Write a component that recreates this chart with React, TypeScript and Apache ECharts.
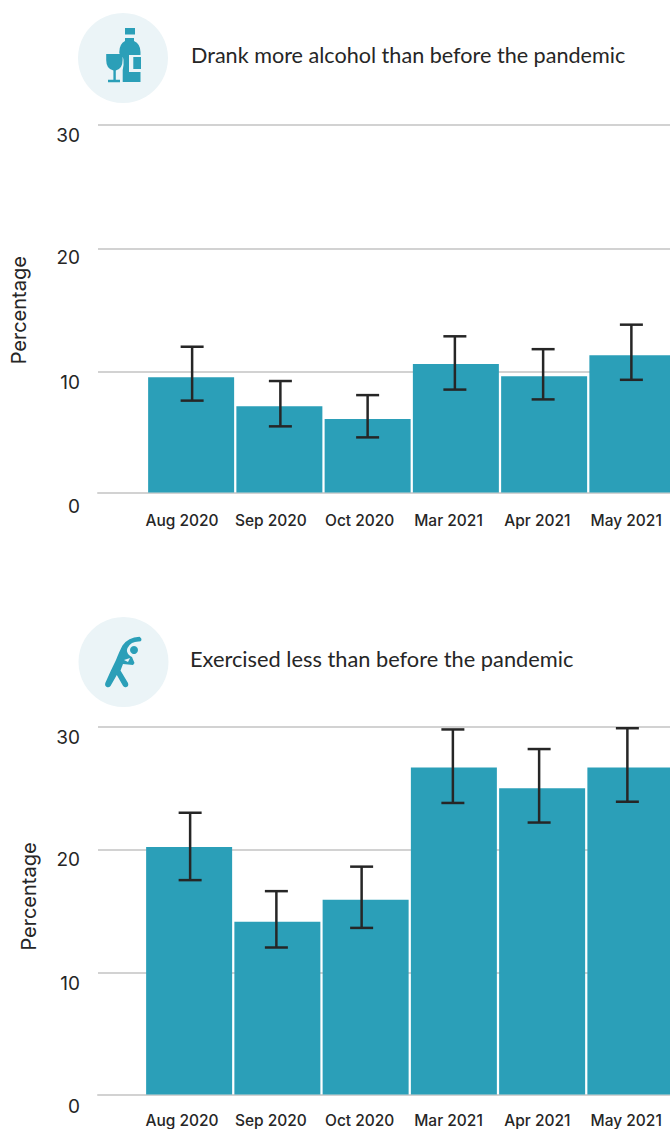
import React, { useEffect, useRef } from "react";
import * as echarts from "echarts";

const months = ["Aug 2020", "Sep 2020", "Oct 2020", "Mar 2021", "Apr 2021", "May 2021"];

const alcoholTitle = "Drank more alcohol than before the pandemic";
const alcoholValues = [9.4, 7.05, 6.0, 10.5, 9.5, 11.2];
const alcoholLow = [7.5, 5.4, 4.5, 8.4, 7.6, 9.2];
const alcoholHigh = [11.9, 9.1, 7.95, 12.75, 11.7, 13.7];

const exerciseTitle = "Exercised less than before the pandemic";
const exerciseValues = [20.2, 14.1, 15.9, 26.7, 25.0, 26.7];
const exerciseLow = [17.5, 12.0, 13.6, 23.8, 22.2, 23.9];
const exerciseHigh = [23.0, 16.6, 18.6, 29.8, 28.2, 29.9];

const TEAL = "#2b9fb8";
const INK = "#262626";
const GRID = "#d2d2d2";
const ROUND = "#ebf4f7";

const bottleD =
  "M125 28H135V34.5H125Z M125 38H134V41Q140.5 44 140.5 52V55H129V72H140.5V82H122.7V70Q124 64 123.5 60Q123 55 119.3 53.5V52Q119.3 44 125 41Z M133.3 57H141V69H133.3Z " +
  "M106.2 54H122.6V60Q122.6 69 115.8 70.4V79.8H120V82.2H108V79.8H113.4V70.4Q106.2 69 106.2 60Z";
const athleteD =
  "M139.5 636.8Q141.8 638.2 141.5 640Q141 641.8 138.5 641.6Q131 641.6 127.5 648Q126.5 650.5 127 651.5Q128 655 132 657L134.5 663L133 665L123 664L120.5 670.5L128 683Q129 686 126.5 687Q124.2 688 122.8 685.6L116.8 675L110.5 686Q109 688 106.7 687Q104.5 685.8 105.3 683Q111 670 116 660Q119.5 651 122.5 645.5Q128 637.5 139.5 636.8Z";

echarts.graphic.registerShape("bottleIcon", echarts.graphic.extendPath(bottleD, {}));
echarts.graphic.registerShape("athleteIcon", echarts.graphic.extendPath(athleteD, {}));

const TITLE_FONT = "Lato";
const AXIS_FONT = "Inter";

function panel(
  base: number,
  top: number,
  backHeight: number,
  height: number,
  barLeft: number,
  values: number[],
  low: number[],
  high: number[],
  nudge: number[],
  nameGap: number,
  nameShift: number,
  labelMargin: number,
  zeroPad: number
) {
  const outerBoundsMode = "none";
  const grids = [
    { left: 98, top, width: 572, height: backHeight, outerBoundsMode },
    { left: barLeft, top, width: 529.5, height, outerBoundsMode },
    { left: 137.6, top, width: 533, height, outerBoundsMode },
  ];
  const yBase = { type: "value", min: 0, max: 30, interval: 10 };
  const tick = (pad: number) => ({
    fontFamily: AXIS_FONT,
    fontSize: 19,
    color: INK,
    padding: [pad, 0, 0, 0],
  });
  const yAxes = [
    {
      ...yBase,
      gridIndex: base,
      name: "Percentage",
      nameLocation: "middle",
      nameRotate: 90,
      nameGap,
      nameTextStyle: { fontFamily: AXIS_FONT, fontSize: 20, color: INK, padding: [0, 0, 0, nameShift] },
      axisLine: { show: false },
      axisTick: { show: false },
      splitLine: { show: true, showMinLine: false, lineStyle: { color: GRID, width: 2 } },
      axisLabel: {
        margin: 18,
        formatter: (v: number) => `{t${v}|${v}}`,
        rich: { t0: tick(zeroPad), t10: tick(20), t20: tick(18), t30: tick(20) },
      },
    },
    { ...yBase, gridIndex: base + 1, show: false },
    { ...yBase, gridIndex: base + 2, show: false },
  ];
  const xAxes = [
    {
      type: "category",
      gridIndex: base,
      data: months,
      offset: height - backHeight,
      axisLine: { show: true, onZero: false, lineStyle: { color: GRID, width: 2 } },
      axisTick: { show: false },
      axisLabel: { show: false },
    },
    { type: "category", gridIndex: base + 1, data: months, show: false },
    {
      type: "category",
      gridIndex: base + 2,
      data: months,
      axisLine: { show: false },
      axisTick: { show: false },
      axisLabel: { interval: 0, margin: labelMargin, fontFamily: AXIS_FONT, fontSize: 15.5, fontWeight: 500, color: INK },
    },
  ];
  const series = [
    {
      type: "bar",
      xAxisIndex: base + 1,
      yAxisIndex: base + 1,
      data: values,
      barWidth: 86,
      itemStyle: { color: TEAL },
      z: 2,
    },
    {
      type: "custom",
      xAxisIndex: base + 1,
      yAxisIndex: base + 1,
      data: low.map((l, i) => [i, l, high[i]]),
      encode: { x: 0, y: [1, 2] },
      clip: false,
      z: 3,
      renderItem: (params: any, api: any) => {
        const i = api.value(0);
        const a = api.coord([i, api.value(1)]);
        const b = api.coord([i, api.value(2)]);
        const x = a[0] + nudge[i];
        const style = { stroke: INK, lineWidth: 2.5, fill: "none" };
        return {
          type: "group",
          children: [
            { type: "line", shape: { x1: x, y1: a[1], x2: x, y2: b[1] }, style },
            { type: "line", shape: { x1: x - 11.5, y1: a[1], x2: x + 11.5, y2: a[1] }, style },
            { type: "line", shape: { x1: x - 11.5, y1: b[1], x2: x + 11.5, y2: b[1] }, style },
          ],
        };
      },
    },
  ];
  return { grids, yAxes, xAxes, series };
}

export default function App() {
  const ref = useRef<HTMLDivElement>(null);
  useEffect(() => {
    const chart = echarts.init(ref.current!, undefined, { renderer: "svg", width: 690, height: 1129 });
    const p1 = panel(0, 125, 370.5, 367.5, 147, alcoholValues, alcoholLow, alcoholHigh, [1, 1, 0, -1, -1, -1], 69, 0, 20, 21);
    const p2 = panel(3, 727, 369, 367.5, 145, exerciseValues, exerciseLow, exerciseHigh, [1, -1, -4, -1, -3, -3], 59, 30, 18, 20);
    chart.setOption({
      animation: false,
      backgroundColor: "#ffffff",
      title: [
        { text: alcoholTitle, left: 191, top: 44, padding: 0, textStyle: { fontFamily: TITLE_FONT, fontSize: 21.6, fontWeight: 400, color: INK } },
        { text: exerciseTitle, left: 190, top: 647, padding: 0, textStyle: { fontFamily: TITLE_FONT, fontSize: 21.8, fontWeight: 400, color: INK } },
      ],
      grid: [...p1.grids, ...p2.grids],
      xAxis: [...p1.xAxes, ...p2.xAxes],
      yAxis: [...p1.yAxes, ...p2.yAxes],
      series: [...p1.series, ...p2.series],
      graphic: [
        { type: "circle", shape: { cx: 123, cy: 58, r: 45 }, style: { fill: ROUND } },
        { type: "circle", shape: { cx: 123.5, cy: 662, r: 45 }, style: { fill: ROUND } },
        { type: "bottleIcon", x: 0, y: 0, scaleX: 1, scaleY: 1, style: { fill: TEAL } },
        { type: "athleteIcon", x: 0, y: 0, scaleX: 1, scaleY: 1, style: { fill: TEAL } },
        { type: "circle", shape: { cx: 134, cy: 650, r: 4 }, style: { fill: TEAL } },
        { type: "polygon", shape: { points: [[124, 660], [130, 658], [128, 662]] }, style: { fill: ROUND } },
      ],
    });
    return () => chart.dispose();
  }, []);
  return (
    <div
      ref={ref}
      style={{ position: "absolute", left: 0, top: 0, width: 670, height: 1129, overflow: "hidden" }}
    />
  );
}
